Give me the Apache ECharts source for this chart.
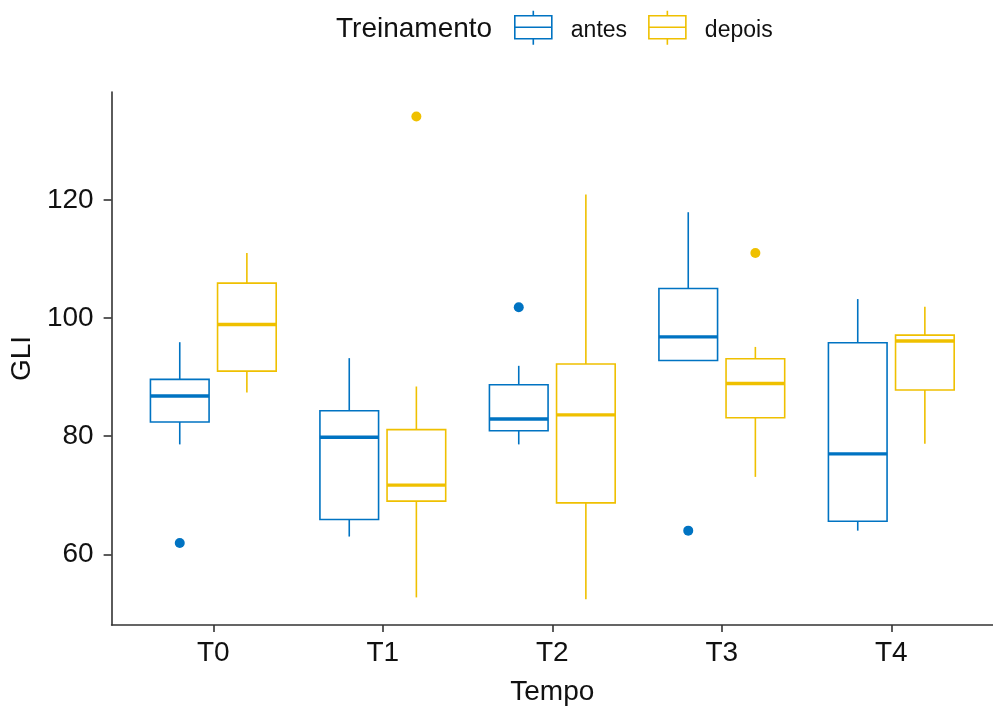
<!DOCTYPE html>
<html>
<head>
<meta charset="utf-8">
<script src="https://cdn.jsdelivr.net/npm/echarts@6/dist/echarts.min.js"></script>
<style>
  html, body { margin: 0; padding: 0; background: #fff; }
  #main { width: 993px; height: 711px; }
</style>
</head>
<body>
<div id="main"></div>
<script>
// categories on the x axis
var categories = ['T0', 'T1', 'T2', 'T3', 'T4'];
var groups = ['antes', 'depois'];

// box stats per category: [lower whisker, Q1, median, Q3, upper whisker]
var antesStats = [
  [78.6, 82.4, 86.8, 89.6, 95.9],
  [63.0, 65.9, 79.8, 84.3, 93.2],
  [78.6, 80.9, 82.9, 88.7, 91.9],
  [92.8, 92.8, 96.8, 105.0, 117.9],
  [64.0, 65.6, 77.0, 95.8, 103.2]
];
var depoisStats = [
  [87.4, 91.0, 98.9, 105.9, 111.0],
  [52.7, 69.0, 71.7, 81.1, 88.4],
  [52.4, 68.7, 83.6, 92.2, 120.9],
  [73.1, 83.1, 88.9, 93.1, 95.1],
  [78.7, 87.8, 96.1, 97.1, 101.9]
];

// outliers: [category index, value]
var antesOutliers = [[0, 61.9], [2, 101.8], [3, 64.0]];
var depoisOutliers = [[1, 134.1], [3, 111.0]];

var yTicks = [60, 80, 100, 120];

var colors = ['#0073C2', '#EFC000'];
var DODGE = 0.198;   // half distance between dodged boxes (category units)
var BOX_W = 0.346;   // box width (category units)
var fontFamily = '"Liberation Sans", Arial, sans-serif';

var myChart = echarts.init(document.getElementById('main'));

function renderBox(params, api) {
  var x = api.value(0);
  var lo = api.coord([x, api.value(1)]);
  var q1 = api.coord([x, api.value(2)]);
  var md = api.coord([x, api.value(3)]);
  var q3 = api.coord([x, api.value(4)]);
  var hi = api.coord([x, api.value(5)]);
  var half = api.size([BOX_W, 0])[0] / 2;
  var color = api.visual('color');
  return {
    type: 'group',
    children: [
      { type: 'line', shape: { x1: lo[0], y1: lo[1], x2: q1[0], y2: q1[1] }, style: { stroke: color, lineWidth: 1.6 } },
      { type: 'line', shape: { x1: q3[0], y1: q3[1], x2: hi[0], y2: hi[1] }, style: { stroke: color, lineWidth: 1.6 } },
      { type: 'rect', shape: { x: q1[0] - half, y: q3[1], width: half * 2, height: q1[1] - q3[1] },
        style: { fill: '#fff', stroke: color, lineWidth: 1.6 } },
      { type: 'line', shape: { x1: md[0] - half, y1: md[1], x2: md[0] + half, y2: md[1] }, style: { stroke: color, lineWidth: 3.4 } }
    ]
  };
}

function boxData(stats, sign) {
  return stats.map(function (s, i) { return [i + sign * DODGE].concat(s); });
}
function outlierData(list, sign) {
  return list.map(function (p) { return [p[0] + sign * DODGE, p[1]]; });
}

var legendIcon = 'path://M18.5,0L18.5,5M0,5L37,5L37,28L0,28ZM0,16.5L37,16.5M18.5,28L18.5,34';

var option = {
  animation: false,
  title: {
    text: 'Treinamento',
    left: 336,
    top: 15,
    padding: 0,
    textStyle: { fontFamily: fontFamily, fontSize: 28, fontWeight: 'normal', color: '#111' }
  },
  legend: {
    left: 514,
    top: 10,
    padding: 0,
    icon: legendIcon,
    itemWidth: 37,
    itemHeight: 34,
    itemGap: 21,
    selectedMode: false,
    formatter: '{t|{name}}',
    textStyle: {
      fontFamily: fontFamily, fontSize: 23, color: '#111',
      rich: { t: { fontFamily: fontFamily, fontSize: 23, color: '#111', padding: [6, 0, 0, 14] } }
    },
    data: [
      { name: groups[0], itemStyle: { color: '#fff', borderColor: colors[0], borderWidth: 1.6 } },
      { name: groups[1], itemStyle: { color: '#fff', borderColor: colors[1], borderWidth: 1.6 } }
    ]
  },
  grid: { left: 111, top: 92, width: 886.6, height: 535 },
  xAxis: {
    type: 'value',
    min: -0.6,
    max: 4.6,
    name: 'Tempo',
    nameLocation: 'middle',
    nameGap: 53,
    nameTextStyle: { fontFamily: fontFamily, fontSize: 28, color: '#111' },
    splitLine: { show: false },
    axisLine: { onZero: false, lineStyle: { color: '#333', width: 1.6 } },
    axisTick: { customValues: [0, 1, 2, 3, 4], length: 7, lineStyle: { color: '#333', width: 1.6 } },
    axisLabel: {
      customValues: [0, 1, 2, 3, 4],
      formatter: function (v) { return categories[Math.round(v)]; },
      fontFamily: fontFamily, fontSize: 28, color: '#111', margin: 14
    }
  },
  yAxis: {
    type: 'value',
    min: 48.03,
    max: 138.25,
    name: 'GLI',
    nameLocation: 'middle',
    nameGap: 74,
    nameTextStyle: { fontFamily: fontFamily, fontSize: 28, color: '#111' },
    splitLine: { show: false },
    axisLine: { show: true, onZero: false, lineStyle: { color: '#333', width: 1.6 } },
    axisTick: { show: true, customValues: yTicks, length: 8, lineStyle: { color: '#333', width: 1.6 } },
    axisLabel: { customValues: yTicks, fontFamily: fontFamily, fontSize: 28, color: '#111', margin: 18 }
  },
  series: [
    { name: groups[0], type: 'custom', renderItem: renderBox, itemStyle: { color: colors[0] },
      encode: { x: 0, y: [1, 2, 3, 4, 5] }, data: boxData(antesStats, -1) },
    { name: groups[1], type: 'custom', renderItem: renderBox, itemStyle: { color: colors[1] },
      encode: { x: 0, y: [1, 2, 3, 4, 5] }, data: boxData(depoisStats, 1) },
    { name: groups[0], type: 'scatter', symbolSize: 10, itemStyle: { color: colors[0], opacity: 1 },
      data: outlierData(antesOutliers, -1) },
    { name: groups[1], type: 'scatter', symbolSize: 10, itemStyle: { color: colors[1], opacity: 1 },
      data: outlierData(depoisOutliers, 1) }
  ]
};

myChart.setOption(option);
</script>
</body>
</html>
